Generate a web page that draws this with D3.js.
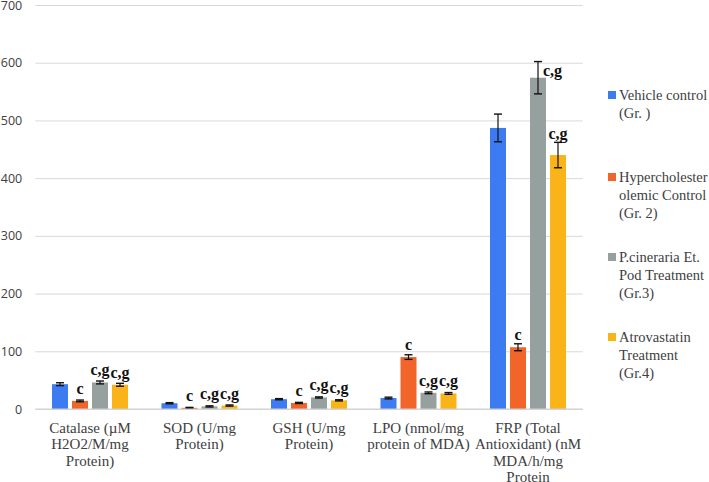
<!DOCTYPE html>
<html><head><meta charset="utf-8">
<script src="https://cdn.jsdelivr.net/npm/d3@7"></script>
<style>body{margin:0;background:#fff}svg{display:block}</style>
</head><body>
<svg id="c" width="709" height="482"></svg>
<script>
const categories = [
  ["Catalase (\u00b5M","H2O2/M/mg","Protein)"],
  ["SOD (U/mg","Protein)"],
  ["GSH (U/mg","Protein)"],
  ["LPO (nmol/mg","protein of MDA)"],
  ["FRP (Total","Antioxidant) (nM","MDA/h/mg","Protein"]
];
const seriesNames = [
  ["Vehicle control","(Gr. )"],
  ["Hypercholester","olemic Control","(Gr. 2)"],
  ["P.cineraria Et.","Pod Treatment","(Gr.3)"],
  ["Atrovastatin","Treatment","(Gr.4)"]
];
const vehicle   = [43, 10, 17, 19, 487];
const hyperchol = [14, 2, 10.5, 90, 107];
const pcineraria= [46, 4.5, 20, 28, 574];
const atrova    = [42, 6, 15, 27, 440];
const errVehicle   = [2.5, 1, 1, 1.5, 24];
const errHyper     = [1.5, 0.8, 1, 4, 6];
const errPcin      = [2.5, 1, 1, 1.5, 28];
const errAtrova    = [2.5, 1, 1, 1.5, 22];
const sigVehicle = ["", "", "", "", ""];
const sigHyper   = ["c", "c", "c", "c", "c"];
const sigPcin    = ["c,g", "c,g", "c,g", "c,g", "c,g"];
const sigAtrova  = ["c,g", "c,g", "c,g", "c,g", "c,g"];
const yTicks = [0,100,200,300,400,500,600,700];

const values = [vehicle, hyperchol, pcineraria, atrova];
const errs = [errVehicle, errHyper, errPcin, errAtrova];
const sigs = [sigVehicle, sigHyper, sigPcin, sigAtrova];
const colors = ["#3d7cf0", "#f2652a", "#95a09f", "#fbb31a"];
const SERIF = "Liberation Serif";
const SANS = "Open Sans";

const svg = d3.select("#c");
const L = 35.25, R = 582.75, T = 5, B = 409;
const y = d3.scaleLinear().domain([0,700]).range([B,T]);
const x0 = d3.scaleBand().domain(d3.range(categories.length)).range([L,R]).paddingInner(0).paddingOuter(0);
const groupW = 80;
const x1 = d3.scaleBand().domain(d3.range(4)).range([0,groupW]).paddingInner(0.2).paddingOuter(0.1);

// grid + y labels
const gAxis = svg.append("g").attr("transform",`translate(${L},0)`)
  .call(d3.axisLeft(y).tickValues(yTicks).tickSize(-(R-L)).tickPadding(13).tickFormat(d3.format("d")));
gAxis.attr("font-family",SANS).attr("font-size",12.5);
gAxis.select(".domain").remove();
gAxis.selectAll(".tick line").attr("stroke","#d9d9d9").attr("stroke-width",1);
gAxis.selectAll(".tick text").attr("fill","#404040");

// bars, error bars, significance labels
for (let s=0;s<4;s++){
  const g = svg.append("g");
  categories.forEach((c,i)=>{
    const bx = x0(i) + (x0.bandwidth()-groupW)/2 + x1(s);
    const bw = x1.bandwidth();
    const v = values[s][i], e = errs[s][i];
    g.append("rect").attr("x",bx).attr("y",y(v)).attr("width",bw).attr("height",y(0)-y(v)).attr("fill",colors[s]);
    const cx = bx + bw/2;
    const e1 = y(v+e), e2 = y(Math.max(0,v-e));
    g.append("line").attr("x1",cx).attr("x2",cx).attr("y1",e1).attr("y2",e2).attr("stroke","#111").attr("stroke-width",1.2);
    [e1,e2].forEach(yy=>g.append("line").attr("x1",cx-4).attr("x2",cx+4).attr("y1",yy).attr("y2",yy).attr("stroke","#111").attr("stroke-width",1.4));
    const lab = sigs[s][i];
    if (lab){
      let ly, lx = cx, anchor = "middle";
      if (v + e > 580){ ly = y(v) - 6; lx = cx + 5; anchor = "start"; }
      else ly = Math.min(y(v)-11, e1-7);
      g.append("text").attr("font-family",SERIF).attr("x",lx).attr("y",ly+4).attr("text-anchor",anchor)
        .attr("font-weight","bold").attr("font-size",16).attr("fill","#111").text(lab);
    }
  });
}

// baseline
svg.append("line").attr("x1",L).attr("x2",R).attr("y1",y(0)).attr("y2",y(0)).attr("stroke","#d0d0d0").attr("stroke-width",1);

// category labels
categories.forEach((lines,i)=>{
  const t = svg.append("text").attr("font-family",SERIF).attr("text-anchor","middle").attr("font-size",15).attr("fill","#404040");
  lines.forEach((ln,k)=>t.append("tspan").attr("x",x0(i)+x0.bandwidth()/2).attr("y",433+k*16.3).text(ln));
});

// legend
const legY = [95,177,257,337];
seriesNames.forEach((lines,s)=>{
  svg.append("rect").attr("x",608).attr("y",legY[s]-4).attr("width",8).attr("height",8).attr("fill",colors[s]);
  const t = svg.append("text").attr("font-family",SERIF).attr("font-size",14.5).attr("fill","#404040");
  lines.forEach((ln,k)=>t.append("tspan").attr("x",619).attr("y",legY[s]+5+k*18).text(ln));
});
</script>
</body></html>
